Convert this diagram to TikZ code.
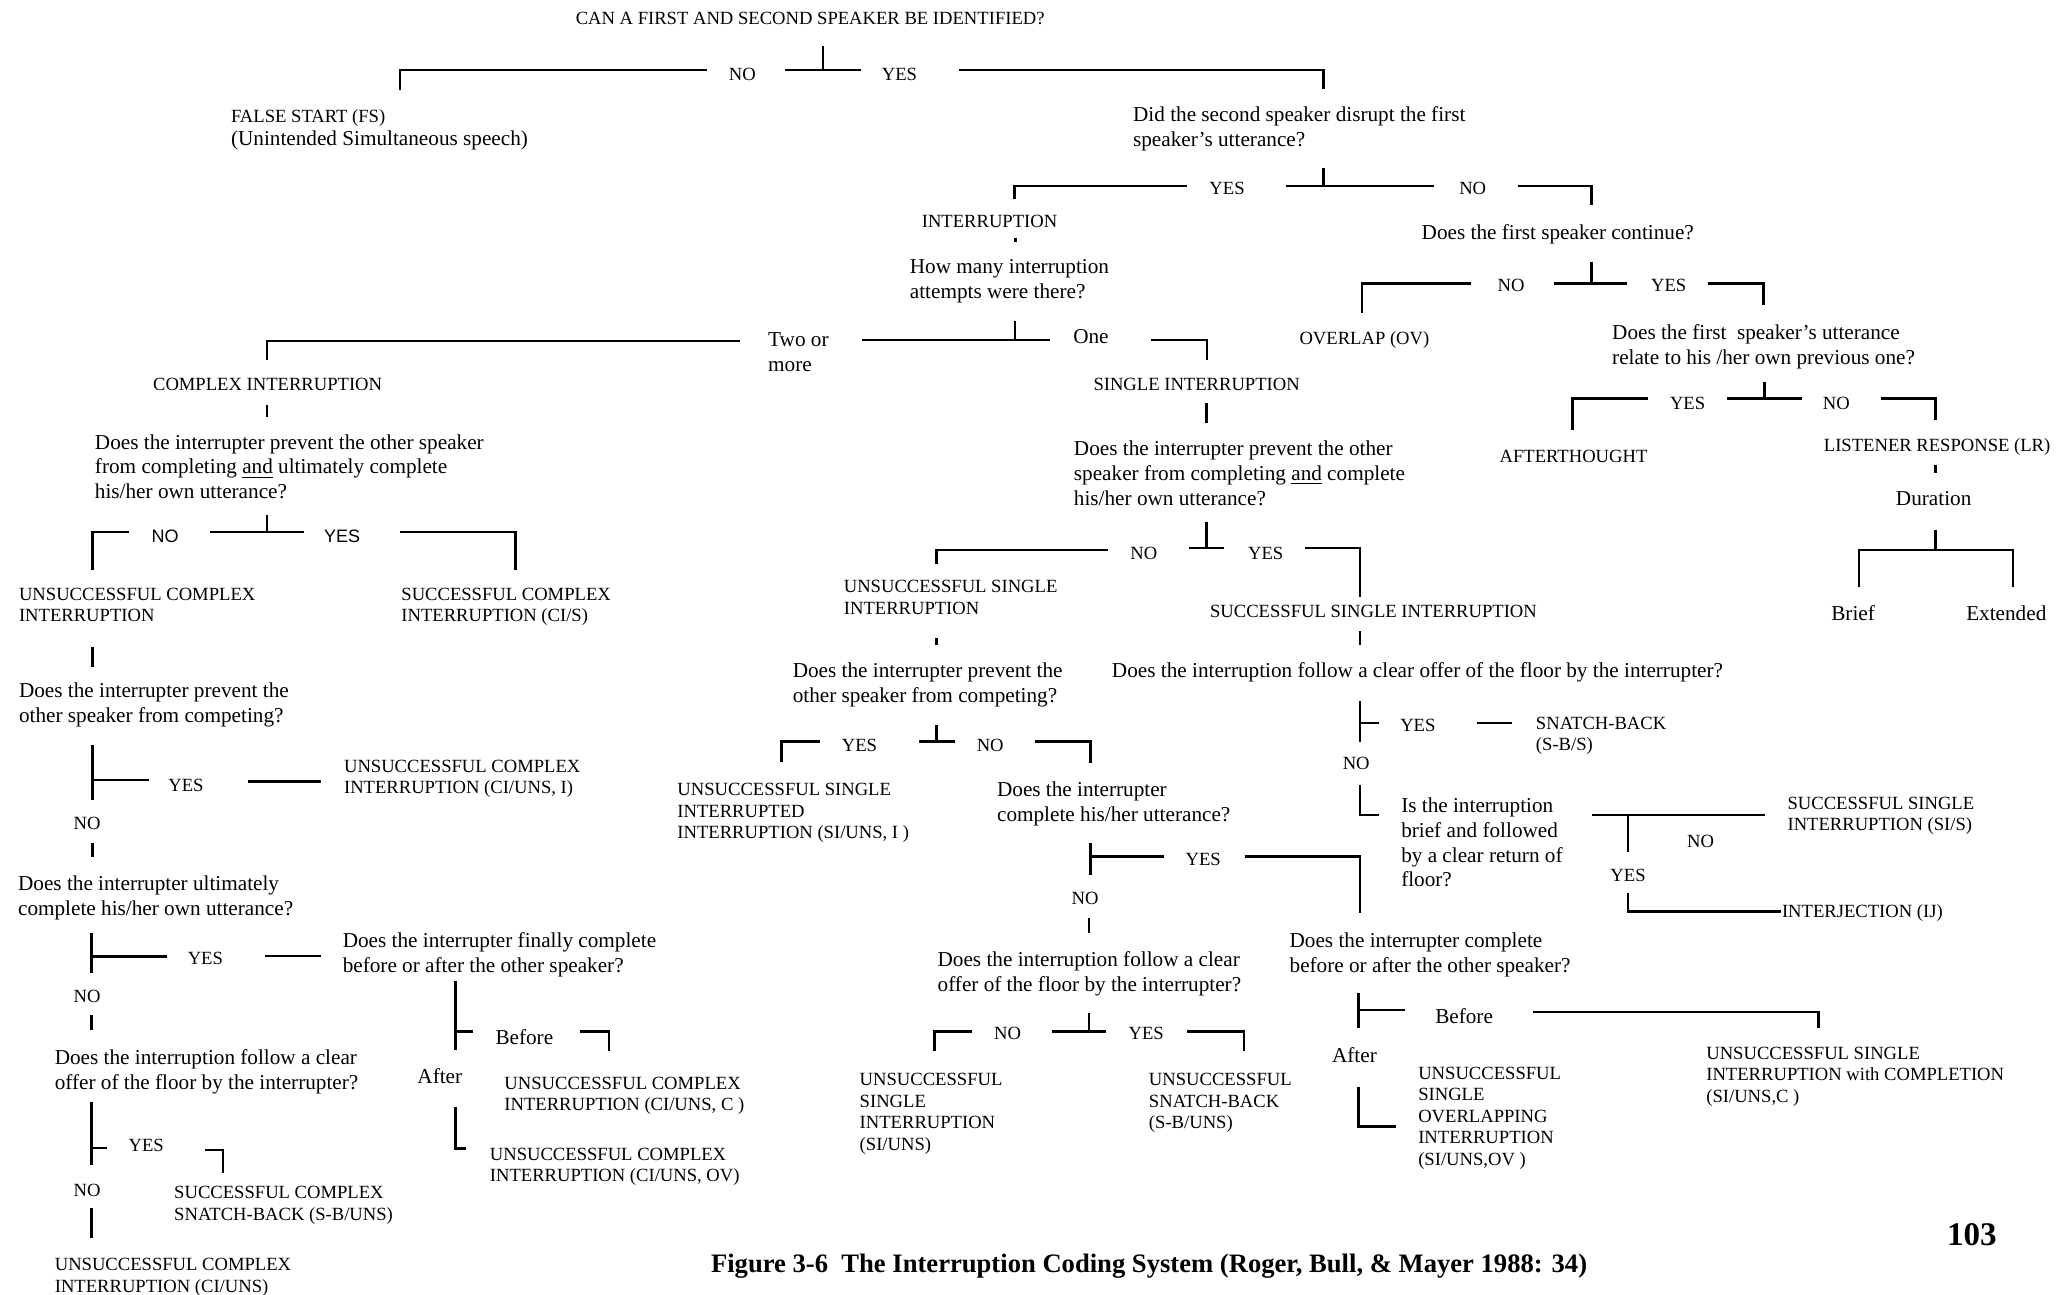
\documentclass[tikz,border=0pt]{standalone}
\usepackage{fontspec}
\setmainfont{Liberation Serif}
\newfontfamily\ynsansfont{Liberation Sans}
\begin{document}
\begin{tikzpicture}[x=0.66pt,y=-0.66pt,line width=1.2pt,
  capsbox/.style={anchor=north west,inner sep=0pt,align=left,font=\fontsize{9.3}{10.8}\selectfont},
  textbox/.style={anchor=north west,inner sep=0pt,align=left,yshift=0.66pt,font=\fontsize{10.6}{12.4}\selectfont},
  yn/.style={inner sep=0pt,font=\fontsize{9.3}{10.8}\selectfont},
  ynsans/.style={inner sep=0pt,font=\ynsansfont\fontsize{9}{10}\selectfont},
  word/.style={inner sep=0pt,font=\fontsize{10.6}{12.4}\selectfont}]
  \useasboundingbox (0,0) rectangle (1568,980);
  % questions and outcomes
  \node[capsbox] (title) at (435,8.3) {CAN A FIRST AND SECOND SPEAKER BE IDENTIFIED?};
  \node[capsbox] (fs) at (174,82.3) {FALSE START (FS)};
  \node[textbox] (fsnote) at (174,99.3) {(Unintended Simultaneous speech)};
  \node[textbox] (disrupt) at (857,80.6) {Did the second speaker disrupt the first\\speaker’s utterance?};
  \node[capsbox] (interr) at (697,161.9) {INTERRUPTION};
  \node[textbox] (attempts) at (688,196.6) {How many interruption\\attempts were there?};
  \node[textbox] (continue) at (1075.5,170) {Does the first speaker continue?};
  \node[capsbox] (overlap) at (983,250.2) {OVERLAP (OV)};
  \node[textbox] (relate) at (1219.7,245.6) {Does the first~ speaker’s utterance\\relate to his /her own previous one?};
  \node[capsbox] (afterthought) at (1134.5,339.8) {AFTERTHOUGHT};
  \node[capsbox] (lr) at (1380,331.5) {LISTENER RESPONSE (LR)};
  \node[word] (duration) at (1464,377.3) {Duration};
  \node[word] (brief) at (1403,464.4) {Brief};
  \node[word] (extended) at (1519,464.4) {Extended};
  \node[textbox] (twoplus) at (580.7,252.1) {Two or\\more};
  \node[word] (one) at (826,255) {One};
  \node[capsbox] (complex) at (115,285.3) {COMPLEX INTERRUPTION};
  \node[capsbox] (single) at (827,285.3) {SINGLE INTERRUPTION};
  \node[textbox] (cprevent) at (71,329) {Does the interrupter prevent the other speaker\\from completing \underline{and} ultimately complete\\his/her own utterance?};
  \node[textbox] (sprevent) at (812.2,334) {Does the interrupter prevent the other\\speaker from completing \underline{and} complete\\his/her own utterance?};
  \node[capsbox] (uci) at (13.5,444.3) {UNSUCCESSFUL COMPLEX\\INTERRUPTION};
  \node[capsbox] (sci) at (303,444.3) {SUCCESSFUL COMPLEX\\INTERRUPTION (CI/S)};
  \node[capsbox] (usi) at (638,438.3) {UNSUCCESSFUL SINGLE\\INTERRUPTION};
  \node[capsbox] (ssi) at (915.3,457.1) {SUCCESSFUL SINGLE INTERRUPTION};
  \node[textbox] (ccompete) at (13.5,517) {Does the interrupter prevent the\\other speaker from competing?};
  \node[textbox] (scompete) at (599.3,501.9) {Does the interrupter prevent the\\other speaker from competing?};
  \node[textbox] (soffer) at (841,501.9) {Does the interruption follow a clear offer of the floor by the interrupter?};
  \node[capsbox] (sbs) at (1162,541.7) {SNATCH-BACK\\(S-B/S)};
  \node[capsbox] (ciunsi) at (259.6,574.5) {UNSUCCESSFUL COMPLEX\\INTERRUPTION (CI/UNS, I)};
  \node[capsbox] (siunsi) at (512,592.2) {UNSUCCESSFUL SINGLE\\INTERRUPTED\\INTERRUPTION (SI/UNS, I )};
  \node[textbox] (scomplete) at (754,592.2) {Does the interrupter\\complete his/her utterance?};
  \node[textbox] (brief2) at (1060,604.1) {Is the interruption\\brief and followed\\by a clear return of\\floor?};
  \node[capsbox] (sis) at (1352.5,602.3) {SUCCESSFUL SINGLE\\INTERRUPTION (SI/S)};
  \node[capsbox,anchor=west] (ij) at (1348.3,691.5) {INTERJECTION (IJ)};
  \node[textbox] (cultimate) at (12.8,663.4) {Does the interrupter ultimately\\complete his/her own utterance?};
  \node[textbox] (cfinally) at (258.6,706.3) {Does the interrupter finally complete\\before or after the other speaker?};
  \node[textbox] (ssoffer) at (709,720.9) {Does the interruption follow a clear\\offer of the floor by the interrupter?};
  \node[textbox] (sbefore) at (975.5,706.3) {Does the interrupter complete\\before or after the other speaker?};
  \node[textbox] (coffer) at (40.6,794.6) {Does the interruption follow a clear\\offer of the floor by the interrupter?};
  \node[word] (before1) at (397,785) {Before};
  \node[word] (after1) at (333,815) {After};
  \node[word] (before2) at (1108.5,769.7) {Before};
  \node[word] (after2) at (1025.5,798.8) {After};
  \node[capsbox] (ciunsc) at (381,814.3) {UNSUCCESSFUL COMPLEX\\INTERRUPTION (CI/UNS, C )};
  \node[capsbox] (ciunsov) at (370,868.3) {UNSUCCESSFUL COMPLEX\\INTERRUPTION (CI/UNS, OV)};
  \node[capsbox] (scsb) at (131,897.5) {SUCCESSFUL COMPLEX\\SNATCH-BACK (S-B/UNS)};
  \node[capsbox] (ciuns) at (40.6,951.7) {UNSUCCESSFUL COMPLEX\\INTERRUPTION (CI/UNS)};
  \node[capsbox] (siuns) at (650,811.7) {UNSUCCESSFUL\\SINGLE\\INTERRUPTION\\(SI/UNS)};
  \node[capsbox] (sbuns) at (869,811.7) {UNSUCCESSFUL\\SNATCH-BACK\\(S-B/UNS)};
  \node[capsbox] (siunsov) at (1072.9,806.7) {UNSUCCESSFUL\\SINGLE\\OVERLAPPING\\INTERRUPTION\\(SI/UNS,OV )};
  \node[capsbox] (siunsc) at (1291,791.6) {UNSUCCESSFUL SINGLE\\INTERRUPTION with COMPLETION\\(SI/UNS,C )};
  \node[font=\bfseries\fontsize{13.3}{15}\selectfont,inner sep=0pt] (caption) at (870,959) {Figure 3-6\ \ The Interruption Coding System (Roger, Bull, \& Mayer 1988: 34)};
  \node[font=\bfseries\fontsize{16.5}{18}\selectfont,inner sep=0pt] (page) at (1493,935) {103};
  % yes / no labels
  \foreach \n/\x/\y/\t in {no0/562/56/NO, yes0/681/56/YES, yes1/929/143/YES, no1/1115/143/NO,
      no2/1144/215.8/NO, yes2/1263.4/215.8/YES, yes3/1277.7/305.4/YES, no3/1390.3/305.4/NO,
      no4/866/419/NO, yes4/958.3/419/YES, yes5/650.7/564/YES, no5/749.7/564/NO,
      yes6/1073.5/549/YES, no6/1026.8/578/NO, no7/1287.5/637/NO, yes7/1232.6/662.5/YES,
      yes8/911/651/YES, no8/821.6/680/NO, no9/762.8/782.4/NO, yes9/867.8/782.4/YES,
      yes10/140.8/594.4/YES, no10/66/623.4/NO, yes11/155.5/725.5/YES, no11/66/754.6/NO,
      yes12/110.7/867/YES, no12/66/901/NO}
    { \node[yn] (\n) at (\x,\y) {\t}; }
  \node[ynsans] (no13) at (125,405.8) {NO};
  \node[ynsans] (yes13) at (259,405.8) {YES};
  % brackets
  \draw (623,35) -- (623,53) (594,53) -- (652,53); \draw (535,53) -| (303,68); \draw (726,53) -| (1002,67);
  \draw (1002,127) -- (1002,141) (974,141) -- (1086,141); \draw (899,141) -| (768,151); \draw (1149,141) -| (1205,155);
  \draw (769,180) -- (769,183.5);
  \draw (768.6,243) -- (768.6,257.5) (653,257.5) -- (795,257.5); \draw (871.5,257.5) -| (914,272.6); \draw (560,258) -| (202,272.6);
  \draw (1205,198) -- (1205,214.5) (1176.6,214.5) -- (1231.7,214.5); \draw (1113.4,214.5) -| (1031,237); \draw (1293,214.5) -| (1335.3,231);
  \draw (1336,289) -- (1336,301.6) (1307.8,301.6) -- (1364.5,301.6); \draw (1247.7,301.6) -| (1190.5,325.6); \draw (1423.8,301.6) -| (1465.5,318);
  \draw (1465.5,401.3) -- (1465.5,416.4); \draw (1407.5,444.2) -- (1407.5,416.4) -- (1524,416.4) -- (1524,444.2);
  \draw (202,390) -- (202,402.6) (159,402.6) -- (230,402.6); \draw (98,402.6) -| (70,431.6); \draw (303,402.6) -| (390.4,431.6);
  \draw (70,564) -- (70,605.7) (70,590.6) -- (113,590.6); \draw (187.6,591.8) -- (242.7,591.8);
  \draw (69.3,706.7) -- (69.3,737) (69.3,724.3) -- (126.8,724.3); \draw (201,724) -- (242.7,724);
  \draw (69.3,834) -- (69.3,882) (69.3,869) -- (81,869); \draw (155.5,870.8) -| (169,888.4);
  \draw (344.8,743) -- (344.8,795) (344.8,781) -- (358,781); \draw (439,781) -| (461,796); \draw (344.8,838) |- (353,869.4);
  \draw (913.6,395) -- (913.6,415) (900,415) -- (927,415); \draw (988,415) -| (1029.5,451.7); \draw (839,416.4) -| (709,427);
  \draw (709,549) -- (709,561.5) (695.6,561.5) -- (722.7,561.5); \draw (620.5,561.5) -| (591.8,576.7); \draw (783.5,561.5) -| (825.7,578);
  \draw (1029.5,531) -- (1029.5,561.5) (1029.5,547.6) -- (1043.8,547.6); \draw (1118,547.6) -- (1145,547.6); \draw (1029.5,594.3) |- (1043.8,617);
  \draw (1205,617) -- (1336,617) (1232.6,617) -- (1232.6,644.8); \draw (1232.6,676.4) |- (1348.3,690.2);
  \draw (825.7,638.5) -- (825.7,662.5) (825.7,648.6) -- (881,648.6); \draw (942.3,648.6) -| (1029.5,691.5);
  \draw (824.5,767) -- (824.5,781) (796.3,781) -- (837.4,781); \draw (736,781) -| (707.5,796); \draw (898.4,781) -| (941.7,796);
  \draw (1028.5,752) -- (1028.5,778.5) (1028.5,764.7) -- (1064,764.7); \draw (1160.4,766) -| (1376.8,778.5); \draw (1028.5,822.7) |- (1056.6,853);
  \foreach \x/\a/\b in {202/306.6/315.6, 913.6/305/320.5, 70/489.6/504.8, 70/638/649, 69.3/768.5/780, 69.3/914.7/937.3,
      1465.5/352/358.4, 709/483/488, 1029.5/478/488.3, 824.5/695/706.6}
    { \draw (\x,\a) -- (\x,\b); }
\end{tikzpicture}
\end{document}
